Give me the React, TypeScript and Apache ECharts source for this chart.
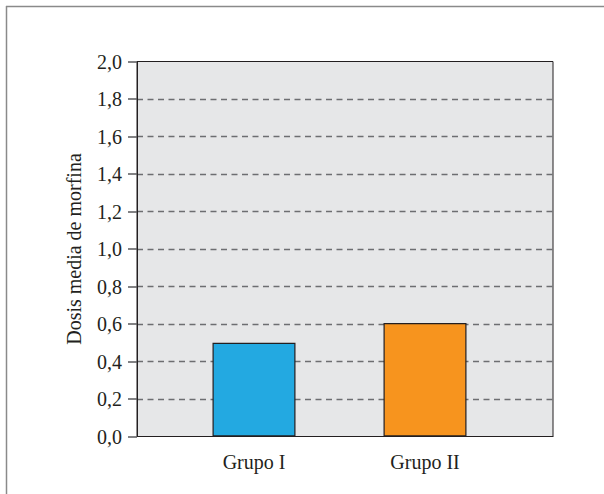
import React, { useEffect, useRef } from "react";
import * as echarts from "echarts";

const categories = ["Grupo I", "Grupo II"];
const values = [0.5, 0.605];
const barColors = ["#23A9E1", "#F7941E"];
const yTicks = { min: 0, max: 2, interval: 0.2 };
const yAxisTitle = "Dosis media de morfina";

const FONT = "Liberation Serif";

export default function App() {
  const ref = useRef<HTMLDivElement>(null);
  useEffect(() => {
    if (!ref.current) return;
    const chart = echarts.init(ref.current, null, { renderer: "svg" });
    const positions = categories.map((_, i) => i + 1);
    chart.setOption({
      animation: false,
      backgroundColor: "#ffffff",
      textStyle: { fontFamily: FONT },
      grid: {
        left: 137,
        right: 51,
        top: 61.5,
        bottom: 57.5,
        show: true,
        backgroundColor: "#E6E7E8",
        borderColor: "#231F20",
        borderWidth: 1,
        containLabel: false,
      },
      xAxis: {
        type: "value",
        min: 1 - 117 / 171,
        max: 2 + 128 / 171,
        axisLine: { show: true, lineStyle: { color: "#231F20", width: 1 } },
        axisTick: { show: false },
        splitLine: { show: false },
        axisLabel: {
          customValues: positions,
          formatter: (v: number) => categories[Math.round(v) - 1] ?? "",
          color: "#231F20",
          fontFamily: FONT,
          fontSize: 20,
          margin: 15,
        },
      },
      yAxis: {
        type: "value",
        min: yTicks.min,
        max: yTicks.max,
        interval: yTicks.interval,
        name: yAxisTitle,
        nameLocation: "middle",
        nameGap: 53,
        nameTextStyle: { color: "#231F20", fontFamily: FONT, fontSize: 20 },
        axisLine: { show: true, lineStyle: { color: "#231F20", width: 1 } },
        axisTick: { show: true, inside: false, length: 9, lineStyle: { color: "#58595B", width: 1.5 } },
        axisLabel: {
          color: "#231F20",
          fontFamily: FONT,
          fontSize: 20,
          margin: 15,
          formatter: (v: number) => v.toFixed(1).replace(".", ","),
        },
        splitLine: {
          show: true,
          showMinLine: false,
          showMaxLine: false,
          lineStyle: { color: "#6D6E71", type: [6, 4.5], width: 1.3 },
        },
      },
      series: [
        {
          type: "bar",
          barWidth: 83,
          data: values.map((v, i) => ({
            value: [positions[i], v],
            itemStyle: { color: barColors[i], borderColor: "#231F20", borderWidth: 1.2 },
          })),
        },
      ],
      graphic: [
        { type: "line", shape: { x1: 6, y1: 6.5, x2: 604, y2: 6.5 }, style: { stroke: "#8A8A8A", lineWidth: 1.5 } },
        { type: "line", shape: { x1: 6.5, y1: 6, x2: 6.5, y2: 494 }, style: { stroke: "#8A8A8A", lineWidth: 1.5 } },
      ],
    });
    return () => chart.dispose();
  }, []);
  return <div ref={ref} style={{ width: 604, height: 494, position: "absolute", left: 0, top: 0 }} />;
}
